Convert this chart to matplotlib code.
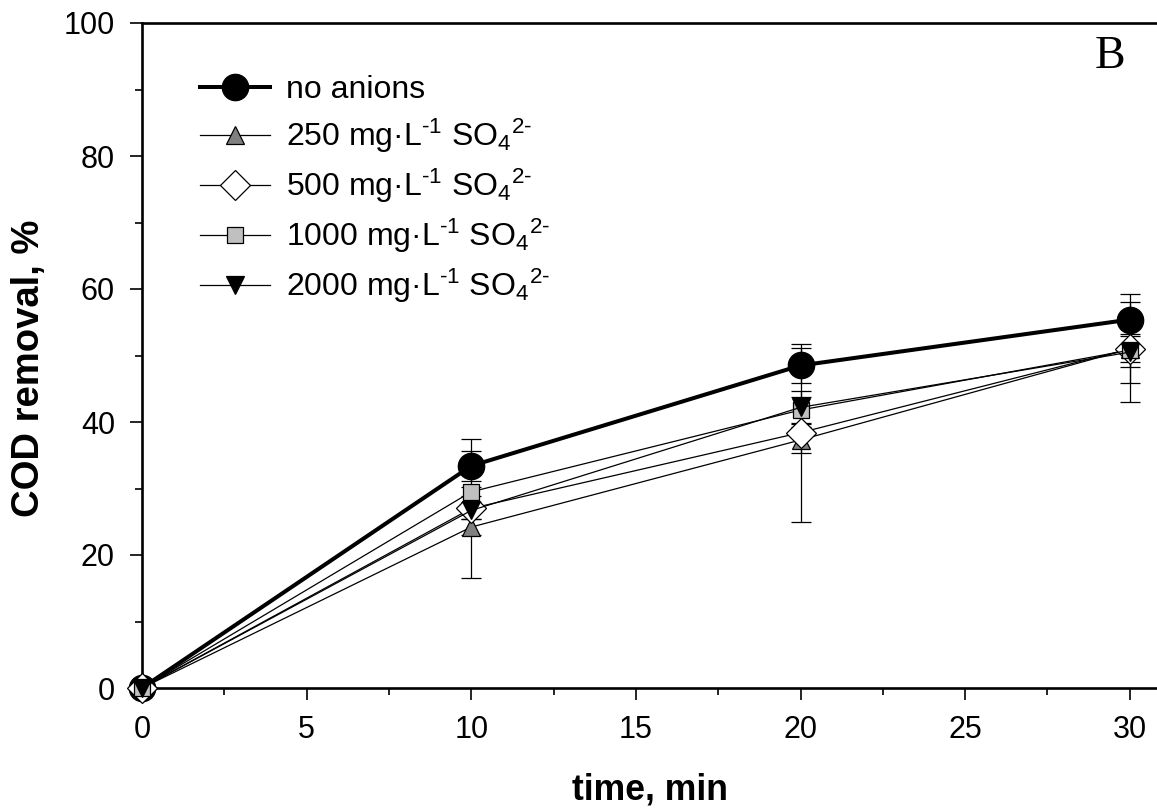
import numpy as np
import matplotlib
matplotlib.use("Agg")
import matplotlib.pyplot as plt
from matplotlib.ticker import MultipleLocator

plt.rcParams['font.family'] = ['Liberation Sans', 'DejaVu Sans']
plt.rcParams['mathtext.fontset'] = 'custom'
plt.rcParams['mathtext.rm'] = 'Liberation Sans'
plt.rcParams['mathtext.it'] = 'Liberation Sans:italic'
plt.rcParams['mathtext.bf'] = 'Liberation Sans:bold'

# data
time = [0, 10, 20, 30]

no_anions = [0, 33.4, 48.5, 55.4]
no_anions_err = [0, 2.2, 2.6, 3.9]

so4_250 = [0, 24.2, 37.3, 51.0]
so4_250_err = [0, 1.2, 1.9, 5.2]

so4_500 = [0, 27.0, 38.4, 51.0]
so4_500_err = [0, 10.5, 13.4, 2.0]

so4_1000 = [0, 29.5, 41.8, 50.8]
so4_1000_err = [0, 0.7, 1.9, 2.5]

so4_2000 = [0, 26.7, 42.2, 50.5]
so4_2000_err = [0, 1.3, 2.5, 7.5]

labels = ['no anions',
          r'250 mg·L$^{\text{-}1}$ SO$_4$$^{2\text{-}}$',
          r'500 mg·L$^{\text{-}1}$ SO$_4$$^{2\text{-}}$',
          r'1000 mg·L$^{\text{-}1}$ SO$_4$$^{2\text{-}}$',
          r'2000 mg·L$^{\text{-}1}$ SO$_4$$^{2\text{-}}$']

series = [
    (no_anions, no_anions_err, 'o', 'black', 19, 2.9),
    (so4_250, so4_250_err, '^', '#808080', 13.5, 0.9),
    (so4_500, so4_500_err, 'D', 'white', 15, 0.9),
    (so4_1000, so4_1000_err, 's', '#c0c0c0', 12, 0.9),
    (so4_2000, so4_2000_err, 'v', 'black', 13.5, 0.9),
]

fig = plt.figure(figsize=(11.57, 8.08), dpi=100)
W, H = 1157, 808
ax = fig.add_axes([142 / W, 120 / H, 1023 / W, 665 / H])

handles = []
for (y, err, mk, fc, ms, lw), lab in zip(series, labels):
    ax.errorbar(time, y, yerr=err, fmt='none', ecolor='black', elinewidth=0.9,
                capsize=7, capthick=0.9, zorder=2, clip_on=False)
    h, = ax.plot(time, y, color='black', linewidth=lw, marker=mk, markersize=ms,
                 markerfacecolor=fc, markeredgecolor='black', markeredgewidth=0.9,
                 label=lab, zorder=3, clip_on=False)
    handles.append(h)

ax.set_xlim(0, 31.07)
ax.set_ylim(0, 100)
ax.xaxis.set_major_locator(MultipleLocator(5))
ax.xaxis.set_minor_locator(MultipleLocator(2.5))
ax.yaxis.set_major_locator(MultipleLocator(20))
ax.yaxis.set_minor_locator(MultipleLocator(10))

ax.spines['right'].set_visible(False)
for s in ['left', 'bottom', 'top']:
    ax.spines[s].set_linewidth(1.9)
ax.tick_params(which='major', direction='out', length=8.5, width=1.2,
               labelsize=22, pad=11, top=False, right=False)
ax.tick_params(which='minor', direction='out', length=5, width=1.2,
               top=False, right=False)

ax.set_xlabel('time, min', fontsize=25.7, fontweight='bold')
ax.xaxis.set_label_coords((650 - 142) / 1023, -0.127)
ax.set_ylabel('COD removal, %', fontsize=27.5, fontweight='bold')
ax.yaxis.set_label_coords(-0.093, 0.48)

ax.text(1110 / W, 1 - 57 / H, 'B', transform=fig.transFigure, fontsize=33,
        family='Liberation Serif', ha='center', va='center')

leg = ax.legend(handles=handles, loc='upper left', frameon=False, fontsize=23,
                bbox_to_anchor=(200 / W, 1 - 75 / H), bbox_transform=fig.transFigure,
                handlelength=2.2, handletextpad=0.5, labelspacing=0.37,
                borderaxespad=0, borderpad=0)

fig.savefig('out.png', dpi=100)
